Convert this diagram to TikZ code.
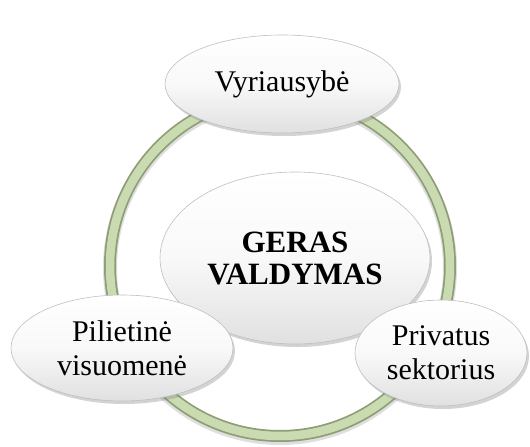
\documentclass[tikz,border=0pt]{standalone}
\usepackage{fontspec}
\setmainfont{Liberation Serif}
\usepackage{tikz}
\usetikzlibrary{shapes.geometric,shadows}
\usepackage{xcolor}

\definecolor{ringedge}{HTML}{8E9E74}
\definecolor{ringfill}{HTML}{CADBB2}

\begin{document}
\begin{tikzpicture}[
    x=1pt, y=-1pt,
    bubble/.style={ellipse, draw=gray!50, line width=0.6pt, inner sep=0pt, align=center,
        top color=white, bottom color=gray!24, middle color=gray!5,
        drop shadow={opacity=0.35, shadow xshift=2pt, shadow yshift=-3pt},
        font=\fontsize{30}{34}\selectfont},
    core/.style={bubble, font=\fontsize{31}{32}\selectfont\bfseries},
]
\useasboundingbox (0,0) rectangle (530,447);
% ring behind the bubbles
\coordinate (hub) at (280,266);
\draw[line width=14pt, color=gray!25] ([yshift=-2pt]hub) circle (170);
\draw[line width=12pt, color=ringedge] (hub) circle (170);
\draw[line width=8.5pt, color=ringfill] (hub) circle (170);
% bubbles
\node[core, minimum width=270pt, minimum height=172pt] (GV) at (295,258) {GERAS\\VALDYMAS};
\node[bubble, minimum width=234pt, minimum height=98pt] (Gov) at (282,84) {Vyriausybė};
\node[bubble, minimum width=222pt, minimum height=106pt] (Civ) at (122,348) {Pilietinė\\visuomenė};
\node[bubble, minimum width=172pt, minimum height=106pt] (Priv) at (441,353) {Privatus\\sektorius};
\end{tikzpicture}
\end{document}
